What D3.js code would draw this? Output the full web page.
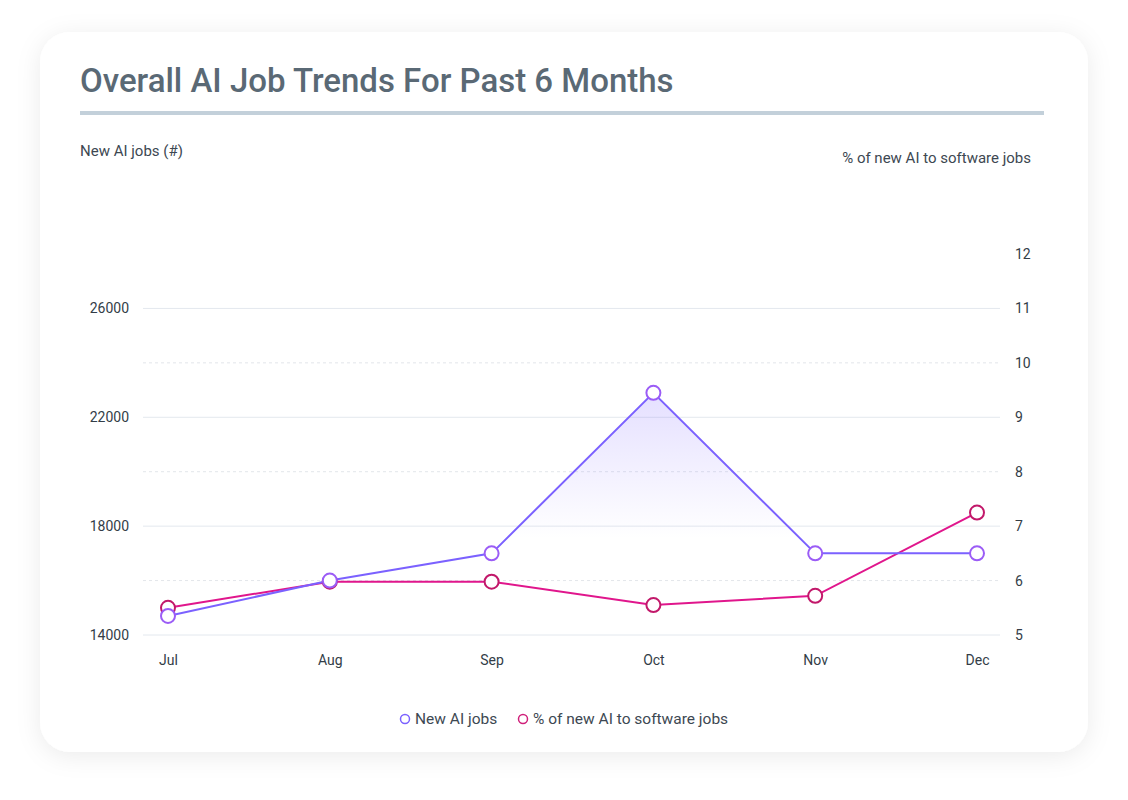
<!DOCTYPE html>
<html>
<head>
<meta charset="utf-8">
<script src="https://cdn.jsdelivr.net/npm/d3@7"></script>
<style>
  html, body { margin: 0; padding: 0; background: #ffffff; }
  body { width: 1128px; height: 800px; overflow: hidden; font-family: Roboto, "Noto Sans", sans-serif; }
</style>
</head>
<body>
<div id="chart"></div>
<script>
// chart data
var months = ["Jul", "Aug", "Sep", "Oct", "Nov", "Dec"];
var newJobs = [14700, 16000, 17000, 22900, 17000, 17000];
var pctJobs = [5.5, 5.98, 5.98, 5.55, 5.72, 7.25];
var leftTicks = [14000, 18000, 22000, 26000];
var rightTicks = [5, 6, 7, 8, 9, 10, 11, 12];

var width = 1128, height = 800;

var svg = d3.select("#chart").append("svg")
    .attr("width", width)
    .attr("height", height);

var defs = svg.append("defs");

var shadow = defs.append("filter").attr("id", "shadow")
    .attr("x", "-10%").attr("y", "-10%").attr("width", "120%").attr("height", "120%");
shadow.append("feDropShadow")
    .attr("dx", 0).attr("dy", 4).attr("stdDeviation", 12)
    .attr("flood-color", "#000").attr("flood-opacity", 0.08);

var grad = defs.append("linearGradient").attr("id", "areaGrad")
    .attr("x1", 0).attr("y1", 0).attr("x2", 0).attr("y2", 1);
grad.append("stop").attr("offset", "0%").attr("stop-color", "#7b61ff").attr("stop-opacity", 0.2);
grad.append("stop").attr("offset", "60%").attr("stop-color", "#7b61ff").attr("stop-opacity", 0.0);

// card
svg.append("rect")
    .attr("x", 40).attr("y", 32)
    .attr("width", 1048).attr("height", 720)
    .attr("rx", 30)
    .attr("fill", "#fff")
    .attr("filter", "url(#shadow)");

svg.append("text")
    .attr("x", 80).attr("y", 92)
    .attr("font-size", 33).attr("font-weight", 500)
    .attr("fill", "#5a6975")
    .text("Overall AI Job Trends For Past 6 Months");

svg.append("rect")
    .attr("x", 80).attr("y", 111)
    .attr("width", 964).attr("height", 4)
    .attr("fill", "#c3d0da");

svg.append("text")
    .attr("x", 80).attr("y", 156)
    .attr("font-size", 15).attr("fill", "#3d4852")
    .text("New AI jobs (#)");

svg.append("text")
    .attr("x", 1031).attr("y", 163)
    .attr("text-anchor", "end")
    .attr("font-size", 15).attr("fill", "#3d4852")
    .text("% of new AI to software jobs");

// scales
var x = d3.scalePoint().domain(months).range([168, 977]);
var yL = d3.scaleLinear().domain([14000, 28000]).range([635, 254]);
var yR = d3.scaleLinear().domain([5, 12]).range([635, 254]);

var plotLeft = 143, plotRight = 1000;

// grid: solid at left ticks, dashed at even right ticks in between
var grid = svg.append("g");
grid.selectAll("line.solid")
    .data(leftTicks)
    .enter().append("line")
    .attr("x1", plotLeft).attr("x2", plotRight)
    .attr("y1", function (d) { return yL(d); })
    .attr("y2", function (d) { return yL(d); })
    .attr("stroke", "#e3e8ee").attr("stroke-width", 1);
grid.selectAll("line.dash")
    .data([6, 8, 10])
    .enter().append("line")
    .attr("x1", plotLeft).attr("x2", plotRight)
    .attr("y1", function (d) { return yR(d); })
    .attr("y2", function (d) { return yR(d); })
    .attr("stroke", "#e3e6ea").attr("stroke-width", 1)
    .attr("stroke-dasharray", "3,3");

// axes
var leftAxis = svg.append("g")
    .attr("transform", "translate(129,0)")
    .call(d3.axisLeft(yL).tickValues(leftTicks).tickFormat(d3.format("d")).tickSize(0).tickPadding(0));
var rightAxis = svg.append("g")
    .attr("transform", "translate(1015,0)")
    .call(d3.axisRight(yR).tickValues(rightTicks).tickFormat(d3.format("d")).tickSize(0).tickPadding(0));
var bottomAxis = svg.append("g")
    .attr("transform", "translate(0,655)")
    .call(d3.axisBottom(x).tickSize(0).tickPadding(0));

[leftAxis, rightAxis, bottomAxis].forEach(function (a) {
    a.select(".domain").remove();
    a.selectAll("text")
        .attr("font-family", "Roboto, sans-serif")
        .attr("font-size", 14)
        .attr("fill", "#333d47");
});

var jobsData = months.map(function (m, i) { return { m: m, v: newJobs[i] }; });
var pctData = months.map(function (m, i) { return { m: m, v: pctJobs[i] }; });

// area under new jobs line
var area = d3.area()
    .x(function (d) { return x(d.m); })
    .y0(yL(14000))
    .y1(function (d) { return yL(d.v); });

svg.append("path")
    .datum(jobsData)
    .attr("d", area)
    .attr("fill", "url(#areaGrad)");

var lineJobs = d3.line()
    .x(function (d) { return x(d.m); })
    .y(function (d) { return yL(d.v); });
var linePct = d3.line()
    .x(function (d) { return x(d.m); })
    .y(function (d) { return yR(d.v); });

svg.append("path")
    .datum(pctData)
    .attr("d", linePct)
    .attr("fill", "none")
    .attr("stroke", "#e0168c")
    .attr("stroke-width", 2);

svg.append("path")
    .datum(jobsData)
    .attr("d", lineJobs)
    .attr("fill", "none")
    .attr("stroke", "#7b61ff")
    .attr("stroke-width", 2);

svg.selectAll("circle.pct")
    .data(pctData)
    .enter().append("circle")
    .attr("cx", function (d) { return x(d.m); })
    .attr("cy", function (d) { return yR(d.v); })
    .attr("r", 7)
    .attr("fill", "#fff")
    .attr("stroke", "#c2186a")
    .attr("stroke-width", 2);

svg.selectAll("circle.jobs")
    .data(jobsData)
    .enter().append("circle")
    .attr("cx", function (d) { return x(d.m); })
    .attr("cy", function (d) { return yL(d.v); })
    .attr("r", 7)
    .attr("fill", "#fff")
    .attr("stroke", "#9b5cf6")
    .attr("stroke-width", 2);

// legend
var legendItems = [
    { label: "New AI jobs", color: "#7b61ff", x: 405 },
    { label: "% of new AI to software jobs", color: "#d0207a", x: 523 }
];
var legend = svg.selectAll("g.legend")
    .data(legendItems)
    .enter().append("g")
    .attr("transform", function (d) { return "translate(" + d.x + ",719)"; });
legend.append("circle")
    .attr("r", 4.5)
    .attr("fill", "#fff")
    .attr("stroke", function (d) { return d.color; })
    .attr("stroke-width", 1.5);
legend.append("text")
    .attr("x", 10).attr("dy", "0.35em")
    .attr("font-size", 15.5).attr("fill", "#3d4852")
    .text(function (d) { return d.label; });
</script>
</body>
</html>
